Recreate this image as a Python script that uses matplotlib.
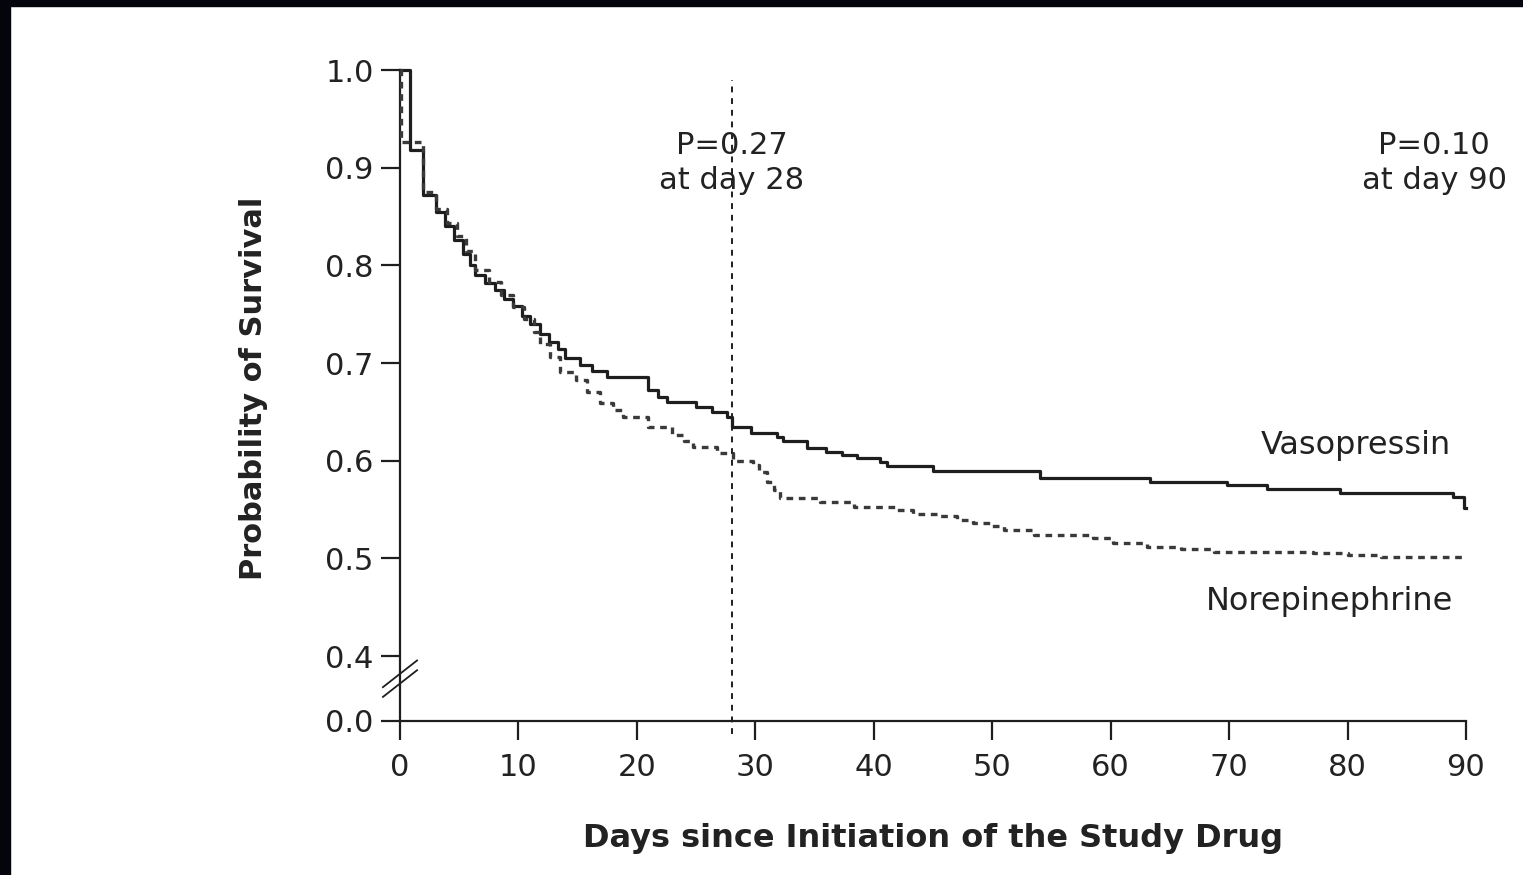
import matplotlib
matplotlib.use("Agg")
import matplotlib.pyplot as plt
from matplotlib.patches import Rectangle

# ---- data ----
vaso_days = [0.0, 0.85, 1.95, 3.0, 3.8, 4.6, 5.3, 5.9, 6.3, 7.2, 8.0, 8.8, 9.5, 10.3, 11.0,
             11.8, 12.6, 13.3, 13.9, 15.2, 16.2, 17.5, 20.9, 21.8, 22.5, 25.0, 26.3, 27.6,
             28.0, 29.6, 31.8, 32.3, 34.4, 36.0, 37.3, 38.6, 40.5, 41.1, 45.0, 54.0, 63.3,
             69.8, 73.2, 79.4, 88.9, 89.8, 90.0]
vaso_surv = [1.000, 0.918, 0.872, 0.855, 0.840, 0.826, 0.812, 0.800, 0.790, 0.782, 0.775,
             0.766, 0.758, 0.748, 0.740, 0.730, 0.722, 0.714, 0.705, 0.698, 0.692, 0.686,
             0.672, 0.665, 0.660, 0.655, 0.650, 0.645, 0.634, 0.628, 0.624, 0.620, 0.613,
             0.609, 0.606, 0.603, 0.599, 0.595, 0.589, 0.582, 0.578, 0.575, 0.571, 0.567,
             0.563, 0.552, 0.552]

nore_days = [0.0, 0.1, 1.95, 3.0, 4.0, 4.8, 5.6, 6.3, 7.5, 8.5, 9.5, 10.5, 11.3, 11.8, 12.7,
             13.5, 14.9, 15.8, 16.9, 18.0, 18.8, 20.9, 23.0, 24.0, 24.7, 26.8, 28.1, 29.8,
             30.3, 31.0, 31.6, 32.1, 35.5, 38.3, 42.0, 43.3, 45.6, 47.0, 48.4, 50.0, 51.0,
             53.5, 58.5, 60.2, 63.1, 65.9, 68.7, 77.1, 80.0, 82.8, 90.0]
nore_surv = [1.000, 0.926, 0.875, 0.858, 0.843, 0.830, 0.815, 0.795, 0.783, 0.770, 0.757,
             0.745, 0.732, 0.719, 0.706, 0.691, 0.683, 0.670, 0.659, 0.652, 0.645, 0.635,
             0.626, 0.620, 0.614, 0.608, 0.600, 0.596, 0.588, 0.578, 0.570, 0.562, 0.558,
             0.553, 0.550, 0.545, 0.543, 0.539, 0.536, 0.533, 0.529, 0.524, 0.521, 0.516,
             0.512, 0.510, 0.507, 0.505, 0.503, 0.501, 0.500]

x_ticks = [0, 10, 20, 30, 40, 50, 60, 70, 80, 90]
y_tick_values = [0.4, 0.5, 0.6, 0.7, 0.8, 0.9, 1.0]
y_tick_labels = ["0.0", "0.4", "0.5", "0.6", "0.7", "0.8", "0.9", "1.0"]
series_names = ["Vasopressin", "Norepinephrine"]
p_labels = ["P=0.27\nat day 28", "P=0.10\nat day 90"]
p_days = [28, 90]

# broken axis: the "0.0" tick sits a short distance below 0.4
Y_ZERO_POS = 0.3335

plt.rcParams['font.family'] = ['DejaVu Sans']
W, H = 1523, 875
fig = plt.figure(figsize=(W / 100, H / 100), dpi=100)
fig.patch.set_facecolor("white")

# dark frame strips (top and left)
fig.patches.append(Rectangle((0, 1 - 6 / H), 1, 6 / H, transform=fig.transFigure,
                             color="#03040c", zorder=10))
fig.patches.append(Rectangle((0, 0), 10 / W, 1, transform=fig.transFigure,
                             color="#03040c", zorder=10))

left, right = 400 / W, 1466 / W
bottom, top = 1 - 721 / H, 1 - 70 / H
ax = fig.add_axes([left, bottom, right - left, top - bottom])

ink = "#1e1e1e"
ax.step(vaso_days, vaso_surv, where="post", color=ink, lw=2.3, clip_on=False, zorder=3)
ax.step(nore_days, nore_surv, where="post", color="#3a3a3a", lw=2.4,
        linestyle=(0, (2.0, 1.7)), clip_on=False, zorder=3)

ax.set_xlim(0, 90)
ax.set_ylim(Y_ZERO_POS, 1.0)
ax.set_xticks(x_ticks)
ax.set_xticklabels([str(t) for t in x_ticks])
ax.set_yticks([Y_ZERO_POS] + y_tick_values)
ax.set_yticklabels(y_tick_labels)

for s in ["top", "right"]:
    ax.spines[s].set_visible(False)
for s in ["left", "bottom"]:
    ax.spines[s].set_linewidth(1.6)
    ax.spines[s].set_color(ink)
ax.tick_params(axis="both", direction="out", length=14, width=1.6, color=ink,
               labelsize=22, labelcolor="#222222")
ax.tick_params(axis="y", pad=5)
ax.tick_params(axis="x", pad=9)

# break marks on the y axis
for dy in (0.0, 0.015):
    ax.plot([-0.016, 0.016], [0.037 + dy, 0.078 + dy], transform=ax.transAxes,
            color=ink, lw=1.3, clip_on=False, zorder=4)

# vertical dashed reference line at day 28
ax.axvline(p_days[0], ymin=-0.02, ymax=0.985, color=ink, lw=1.4,
           linestyle=(0, (3, 3)), clip_on=False, zorder=2)

# annotations
ax.text(p_days[0], 0.905, p_labels[0], ha="center", va="center", fontsize=22,
        color="#222222", linespacing=1.25)
ax.text(p_days[1] - 2.7, 0.905, p_labels[1], ha="center", va="center", fontsize=22,
        color="#222222", linespacing=1.25)
ax.text(88.7, 0.616, series_names[0], ha="right", va="center", fontsize=23, color="#222222")
ax.text(88.9, 0.456, series_names[1], ha="right", va="center", fontsize=23, color="#222222")

fig.text(253 / W, 1 - 388 / H, "Probability of Survival", rotation=90, ha="center",
         va="center", fontsize=22, fontweight="bold", color="#222222")
fig.text(933 / W, 1 - 838 / H, "Days since Initiation of the Study Drug", ha="center",
         va="center", fontsize=23, fontweight="bold", color="#222222")

fig.savefig("out.png", dpi=100)
